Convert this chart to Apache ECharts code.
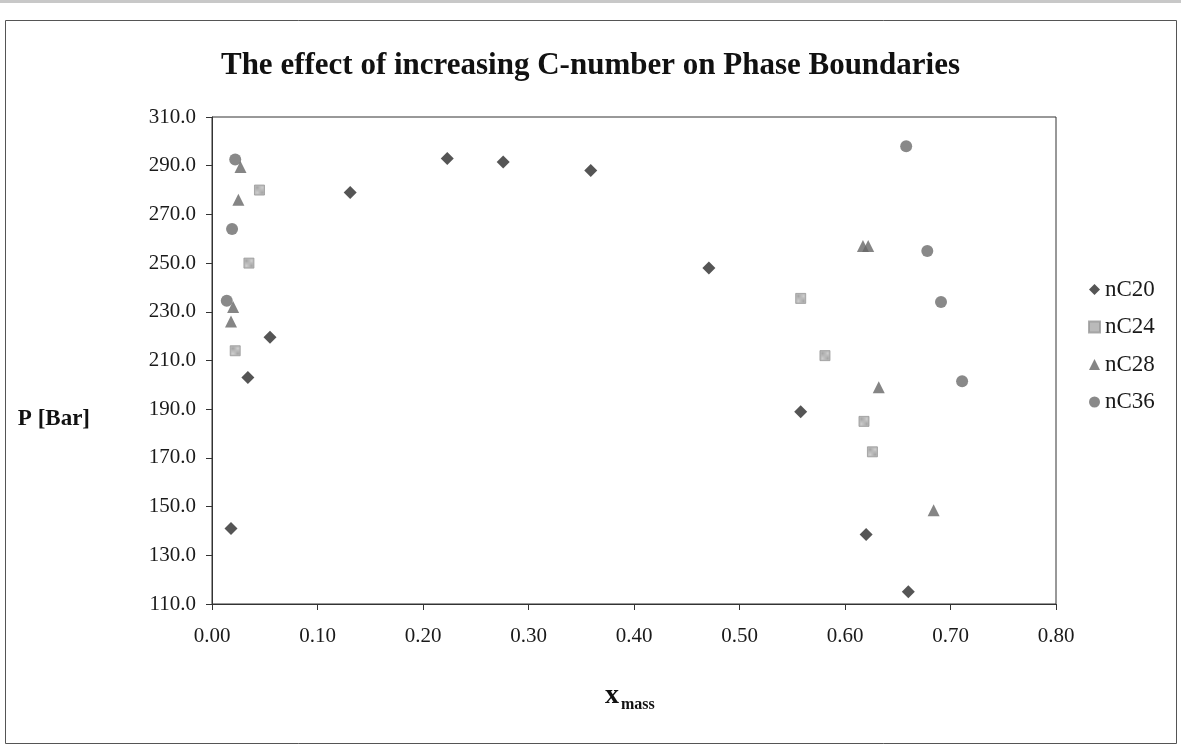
<!DOCTYPE html>
<html>
<head>
<meta charset="utf-8">
<script src="https://cdn.jsdelivr.net/npm/echarts@6/dist/echarts.min.js"></script>
<style>html,body{margin:0;padding:0;background:#fff;}#c{width:1181px;height:748px;}</style>
</head>
<body>
<div id="c"></div>
<script>
// ---- data (x_mass, P [Bar]) ----
const nC20 = [[0.018,141],[0.034,203],[0.055,219.5],[0.131,279],[0.223,293],[0.276,291.5],[0.359,288],[0.471,248],[0.558,189],[0.620,138.5],[0.660,115]];
const nC24 = [[0.022,214],[0.035,250],[0.045,280],[0.558,235.5],[0.581,212],[0.618,185],[0.626,172.5]];
const nC28 = [[0.018,226],[0.020,232],[0.025,276],[0.027,289.5],[0.617,257],[0.622,257],[0.632,199],[0.684,148.5]];
const nC36 = [[0.014,234.5],[0.019,264],[0.022,292.5],[0.658,298],[0.678,255],[0.691,234],[0.711,201.5]];
const seriesNames = ['nC20','nC24','nC28','nC36'];
const xTicks = {min:0, max:0.8, step:0.1};
const yTicks = {min:110, max:310, step:20};

const FONT = '"Liberation Serif","Times New Roman",serif';

// small checker pattern for the nC24 squares
const pat = document.createElement('canvas');
pat.width = 2; pat.height = 2;
const pctx = pat.getContext('2d');
pctx.fillStyle = '#c4c4c4'; pctx.fillRect(0,0,2,2);
pctx.fillStyle = '#8e8e8e'; pctx.fillRect(0,0,1,1); pctx.fillRect(1,1,1,1);

const chart = echarts.init(document.getElementById('c'), null, {renderer:'canvas'});
chart.setOption({
  backgroundColor:'#ffffff',
  animation:false,
  title:{
    text:'The effect of increasing C-number on Phase Boundaries',
    left:'center', top:45,
    textStyle:{fontFamily:FONT, fontWeight:'bold', fontSize:31, color:'#111'}
  },
  legend:{
    orient:'vertical', left:1083, top:273, itemGap:14.5,
    itemWidth:11, itemHeight:11,
    textStyle:{fontFamily:FONT, fontSize:23, color:'#1a1a1a'},
    data:seriesNames
  },
  grid:{left:212, right:125, top:117, bottom:144, show:true, borderColor:'#333', borderWidth:1, backgroundColor:'#fff'},
  xAxis:{
    type:'value', min:xTicks.min, max:xTicks.max, interval:xTicks.step,
    axisLine:{show:true, onZero:false, lineStyle:{color:'#333', width:1}},
    axisTick:{show:true, inside:false, length:6, lineStyle:{color:'#333'}},
    splitLine:{show:false},
    axisLabel:{margin:22, fontFamily:FONT, fontSize:21, color:'#1a1a1a', formatter:v=>v.toFixed(2)}
  },
  yAxis:{
    type:'value', min:yTicks.min, max:yTicks.max, interval:yTicks.step,
    axisLine:{show:true, onZero:false, lineStyle:{color:'#333', width:1}},
    axisTick:{show:true, inside:false, length:6, lineStyle:{color:'#333'}},
    splitLine:{show:false},
    axisLabel:{margin:16, fontFamily:FONT, fontSize:21, color:'#1a1a1a', formatter:v=>v.toFixed(1)}
  },
  graphic:[
    {type:'rect', shape:{x:5.5, y:20.5, width:1171, height:723}, style:{fill:'none', stroke:'#555', lineWidth:1}, silent:true},
    {type:'rect', shape:{x:0, y:0, width:1181, height:3}, style:{fill:'#c8c8c8'}, silent:true},
    {type:'text', right:1181-90, top:408, style:{text:'P [Bar]', fontFamily:FONT, fontWeight:'bold', fontSize:23, fill:'#111', textAlign:'right'}},
    {type:'text', left:605, top:682, style:{text:'x', fontFamily:FONT, fontWeight:'bold', fontSize:28, fill:'#111'}},
    {type:'text', left:621, top:697, style:{text:'mass', fontFamily:FONT, fontWeight:'bold', fontSize:16, fill:'#111'}}
  ],
  series:[
    {name:'nC20', type:'scatter', data:nC20, symbol:'diamond', symbolSize:13, itemStyle:{color:'#2b2b2b'}},
    {name:'nC24', type:'scatter', data:nC24, symbol:'rect', symbolSize:10, itemStyle:{color:{image:pat, repeat:'repeat'}, borderColor:'#999', borderWidth:1}},
    {name:'nC28', type:'scatter', data:nC28, symbol:'triangle', symbolSize:12, itemStyle:{color:'#666'}},
    {name:'nC36', type:'scatter', data:nC36, symbol:'circle', symbolSize:12, itemStyle:{color:'#6c6c6c'}}
  ]
});
</script>
</body>
</html>
